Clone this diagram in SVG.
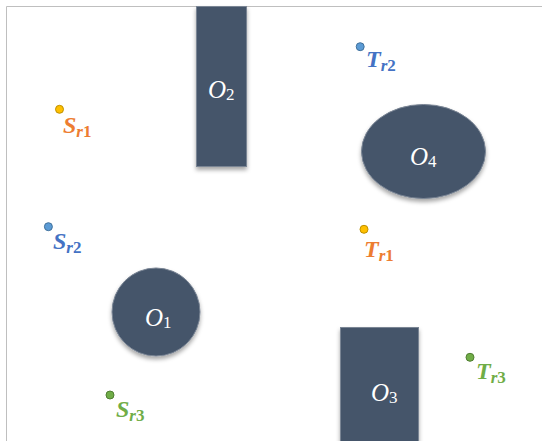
<svg xmlns="http://www.w3.org/2000/svg" width="542" height="441" viewBox="0 0 542 441">
<style>
.obs{fill:#44546A;stroke:#7a8594;stroke-width:1;filter:url(#sh)}
.ol{font-family:"Liberation Serif",serif;font-size:25px;fill:#fff;font-style:italic}
.ol tspan.s{font-style:normal;font-size:17px}
.lb{font-family:"Liberation Serif",serif;font-size:24px;font-weight:bold;font-style:italic}
.lb tspan.s{font-size:17px}
.lb tspan.d{font-style:normal}
.o{fill:#ED7D31}.b{fill:#4472C4}.g{fill:#70AD47}
.dy{fill:#FFC000;stroke:#BF9000;stroke-width:1}
.db{fill:#5B9BD5;stroke:#41719C;stroke-width:1}
.dg{fill:#70AD47;stroke:#507E32;stroke-width:1}
</style>
<defs>
<filter id="sh" x="-20%" y="-20%" width="140%" height="150%">
<feDropShadow dx="0" dy="3" stdDeviation="2" flood-color="#000" flood-opacity="0.35"/>
</filter>
</defs>
<rect width="542" height="441" fill="#fff"/>
<path d="M6.5,441 V6.5 H542" fill="none" stroke="#bfbfbf" stroke-width="1"/>
<g id="connectors"></g>
<g id="O2"><rect class="obs" x="196.5" y="6.5" width="50" height="160"/><text class="ol" x="208" y="98">O<tspan class="s" dy="2">2</tspan></text></g>
<g id="O1"><circle class="obs" cx="156" cy="312" r="44"/><text class="ol" x="145" y="326">O<tspan class="s" dy="2">1</tspan></text></g>
<g id="O4"><ellipse class="obs" cx="423.5" cy="151.5" rx="62" ry="47"/><text class="ol" x="410" y="165">O<tspan class="s" dy="2">4</tspan></text></g>
<g id="O3"><rect class="obs" x="340.5" y="327.5" width="78" height="120"/><text class="ol" x="371" y="401">O<tspan class="s" dy="2">3</tspan></text></g>
<g id="Sr1"><circle class="dy" cx="59.5" cy="109.3" r="4"/><text class="lb o" x="63" y="133">S<tspan class="s" dy="4">r<tspan class="d">1</tspan></tspan></text></g>
<g id="Sr2"><circle class="db" cx="48.4" cy="226.7" r="4"/><text class="lb b" x="53" y="249">S<tspan class="s" dy="4">r<tspan class="d">2</tspan></tspan></text></g>
<g id="Tr2"><circle class="db" cx="360.2" cy="46.7" r="4"/><text class="lb b" x="366" y="67">T<tspan class="s" dy="4">r<tspan class="d">2</tspan></tspan></text></g>
<g id="Tr1"><circle class="dy" cx="364" cy="229.3" r="4"/><text class="lb o" x="364" y="257">T<tspan class="s" dy="4">r<tspan class="d">1</tspan></tspan></text></g>
<g id="Sr3"><circle class="dg" cx="110" cy="395" r="4"/><text class="lb g" x="116" y="417">S<tspan class="s" dy="4">r<tspan class="d">3</tspan></tspan></text></g>
<g id="Tr3"><circle class="dg" cx="470" cy="357.3" r="4"/><text class="lb g" x="476" y="379">T<tspan class="s" dy="4">r<tspan class="d">3</tspan></tspan></text></g>
</svg>
